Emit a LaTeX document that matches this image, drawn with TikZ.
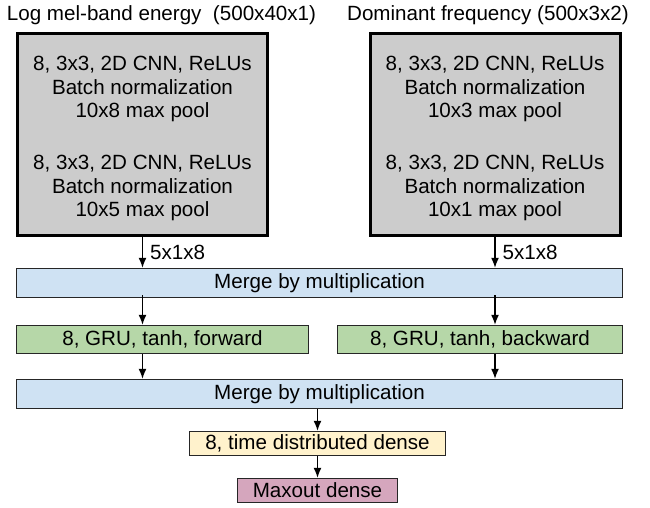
\documentclass[tikz,border=0pt]{standalone}
\usepackage{fontspec}
\setmainfont{Liberation Sans}
\usetikzlibrary{arrows.meta, positioning}
\definecolor{cnngray}   {RGB}{204, 204, 204}
\definecolor{mergeblue} {RGB}{207, 226, 243}
\definecolor{grugreen}  {RGB}{182, 215, 168}
\definecolor{densecream}{RGB}{255, 242, 204}
\definecolor{maxpink}   {RGB}{213, 166, 189}

\tikzset{
  lbl/.style={font=\fontsize{20.6}{23.5}\selectfont, inner sep=0pt},
  cnnbox/.style={lbl, draw=black, line width=3pt, fill=cnngray,
    minimum width=250pt, minimum height=202pt, align=center},
  layerbox/.style={lbl, draw=black!85, line width=1.5pt},
  arr/.style={-{Latex[length=10pt, width=8pt]}, line width=1.3pt},
}

\begin{document}
\begin{tikzpicture}[x=1pt, y=-1pt]
  \useasboundingbox (0,0) rectangle (650,507);

  % Input titles
  \node[lbl] (titleL) at (161.5,15) {Log mel-band energy\ \ (500x40x1)};
  \node[lbl] (titleR) at (488,15) {Dominant frequency (500x3x2)};

  % CNN stacks
  \node[cnnbox] (cnnL) at (142.5,134.5)
    {\rule{0pt}{23pt}8, 3x3, 2D CNN, ReLUs\\ Batch normalization\\ 10x8 max pool\\[28.5pt]
     8, 3x3, 2D CNN, ReLUs\\ Batch normalization\\ 10x5 max pool};
  \node[cnnbox] (cnnR) at (495,134.5)
    {\rule{0pt}{23pt}8, 3x3, 2D CNN, ReLUs\\ Batch normalization\\ 10x3 max pool\\[28.5pt]
     8, 3x3, 2D CNN, ReLUs\\ Batch normalization\\ 10x1 max pool};

  % First merge
  \node[layerbox, fill=mergeblue, minimum width=606pt, minimum height=29pt]
    (merge1) at (319.5,283) {Merge by multiplication};

  % GRU layers
  \node[layerbox, fill=grugreen, minimum width=292pt, minimum height=28pt]
    (gruF) at (162.5,339.5) {8, GRU, tanh, forward};
  \node[layerbox, fill=grugreen, minimum width=285pt, minimum height=28pt]
    (gruB) at (480,339.5) {8, GRU, tanh, backward};

  % Second merge
  \node[layerbox, fill=mergeblue, minimum width=606pt, minimum height=29pt]
    (merge2) at (319.5,394) {Merge by multiplication};

  % Output layers
  \node[layerbox, fill=densecream, minimum width=256pt, minimum height=24pt]
    (dense) at (317.5,443.5) {8, time distributed dense};
  \node[layerbox, fill=maxpink, minimum width=160pt, minimum height=24pt]
    (maxout) at (317.5,490.5) {Maxout dense};

  % Connections
  \draw[arr] (cnnL.south) -- node[lbl, anchor=west, xshift=7pt] (shapeL) {5x1x8}
    (cnnL.south |- merge1.north);
  \draw[arr] (cnnR.south) -- node[lbl, anchor=west, xshift=7pt] (shapeR) {5x1x8}
    (cnnR.south |- merge1.north);
  \draw[arr] ([yshift=3pt]merge1.south -| cnnL) -- (gruF.north -| cnnL);
  \draw[arr] ([yshift=3pt]merge1.south -| cnnR) -- (gruB.north -| cnnR);
  \draw[arr] (gruF.south -| cnnL) -- (merge2.north -| cnnL);
  \draw[arr] (gruB.south -| cnnR) -- (merge2.north -| cnnR);
  \draw[arr] (merge2.south -| dense) -- (dense.north);
  \draw[arr] (dense.south) -- (maxout.north);
\end{tikzpicture}
\end{document}
